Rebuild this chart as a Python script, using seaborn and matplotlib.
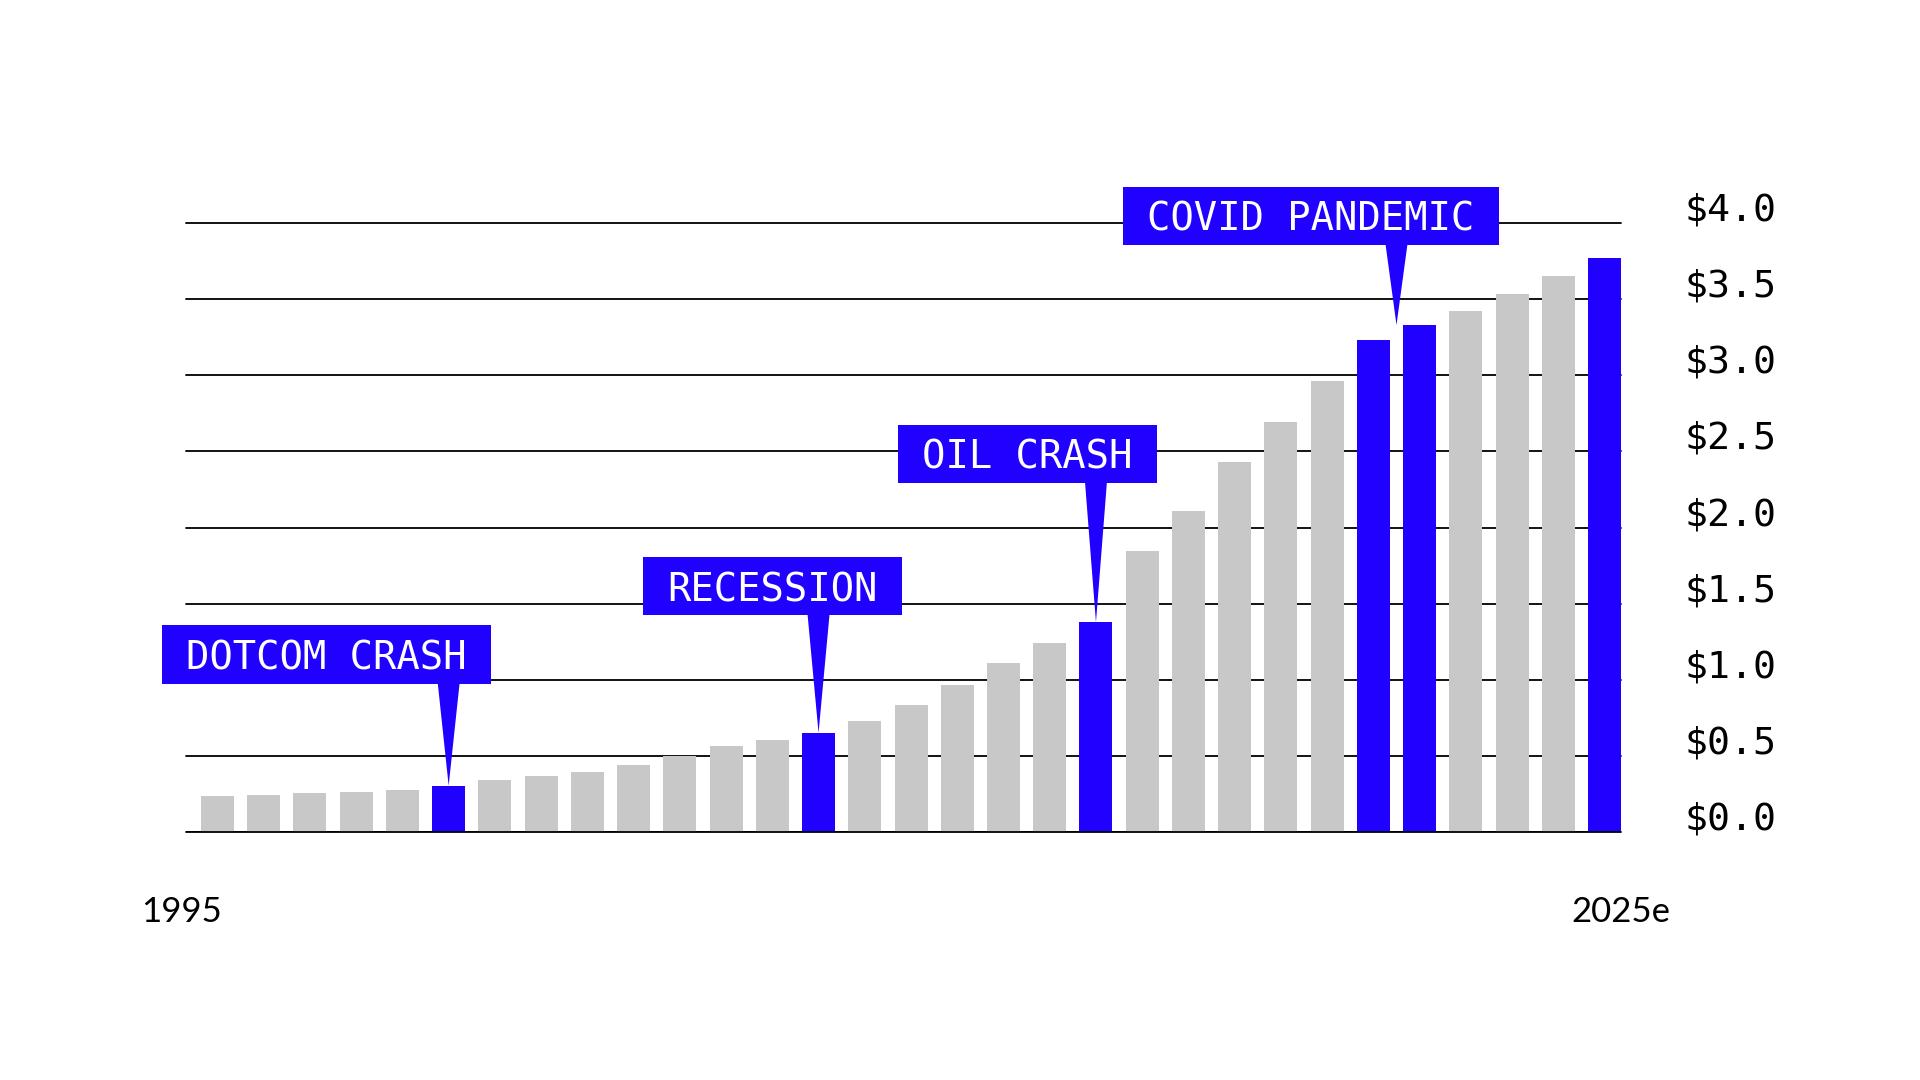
import matplotlib.pyplot as plt
import matplotlib.transforms as mtransforms
from matplotlib.path import Path
import seaborn as sns
import pandas as pd

# data
years = list(range(1995, 2026))
values = [0.238, 0.244, 0.258, 0.264, 0.278, 0.304, 0.344, 0.370, 0.396, 0.443,
          0.498, 0.564, 0.604, 0.651, 0.731, 0.834, 0.965, 1.109, 1.240, 1.378,
          1.849, 2.110, 2.430, 2.690, 2.960, 3.233, 3.330, 3.424, 3.536, 3.655,
          3.767]
highlight_years = [2000, 2008, 2014, 2020, 2021, 2025]
y_ticks = [0.0, 0.5, 1.0, 1.5, 2.0, 2.5, 3.0, 3.5, 4.0]
y_tick_labels = ['$0.0', '$0.5', '$1.0', '$1.5', '$2.0', '$2.5', '$3.0', '$3.5', '$4.0']
event_labels = ['DOTCOM CRASH', 'RECESSION', 'OIL CRASH', 'COVID PANDEMIC']
event_years = [[2000], [2008], [2014], [2020, 2021]]

# callout text centre, offset from the pointer tip (points)
callout_offsets = [(-87.8, 91.7), (-33.1, 102.7), (-49.2, 118.5), (-61.6, 75.7)]

BLUE = '#2000FF'
GREY = '#C8C8C8'


def callout_box(x0, y0, width, height, mutation_size):
    # flat rectangle, wider side padding, a bit more room on top so caps sit centred
    padx = 0.62 * mutation_size
    pad_top = 0.36 * mutation_size
    pad_bot = 0.16 * mutation_size
    l, r = x0 - padx, x0 + width + padx
    b, t = y0 - pad_bot, y0 + height + pad_top
    return Path([(l, b), (r, b), (r, t), (l, t), (l, b)], closed=True)


df = pd.DataFrame({'year': years, 'value': values})
df['kind'] = ['event' if y in highlight_years else 'base' for y in df['year']]

sns.set_theme(style='white')
plt.rcParams['font.family'] = ['DejaVu Sans Mono', 'DejaVu Sans']

fig = plt.figure(figsize=(19.2, 10.8), dpi=100)
ax = fig.add_axes([0.0969, 0.2296, 0.7474, 0.5639])

sns.barplot(data=df, x='year', y='value', hue='kind', dodge=False,
            palette={'base': GREY, 'event': BLUE}, saturation=1,
            width=0.713, errorbar=None, legend=False, linewidth=0, ax=ax)

ax.set_xlim(-0.68, 30.357)
ax.set_ylim(0, 4.0)
ax.set_axisbelow(True)
ax.yaxis.grid(True, color='black', linewidth=1.3)
ax.xaxis.grid(False)
ax.axhline(0, color='black', linewidth=2.0, zorder=3)
sns.despine(ax=ax, left=True, bottom=True, right=True, top=True)

ax.set_xticks([])
ax.set_xlabel('')
ax.set_ylabel('')
ax.yaxis.tick_right()
ax.set_yticks(y_ticks)
ax.set_yticklabels(y_tick_labels)
ax.tick_params(axis='y', length=0, pad=46, labelsize=27.5, labelcolor='black')
nudge = mtransforms.ScaledTranslation(0, 0.025, fig.dpi_scale_trans)
for lbl in ax.get_yticklabels():
    lbl.set_verticalalignment('baseline')
    lbl.set_transform(lbl.get_transform() + nudge)
# the $4.0 line sits on the top edge, keep it full width
for gl in ax.get_ygridlines():
    gl.set_clip_on(False)

# start / end year labels
ax.text(-0.003, -0.148, str(years[0]), transform=ax.transAxes, ha='center',
        va='baseline', fontsize=25, family='Lato', color='black')
ax.text(1, -0.148, f'{years[-1]}e', transform=ax.transAxes, ha='center',
        va='baseline', fontsize=25, family='Lato', color='black')

# callouts
for label, yrs, (dx, dy) in zip(event_labels, event_years, callout_offsets):
    idx = [years.index(y) for y in yrs]
    tip_x = sum(idx) / len(idx)
    tip_y = values[idx[-1]]
    ax.annotate('', xy=(tip_x, tip_y), xytext=(0, dy - 17.5),
                textcoords='offset points',
                arrowprops=dict(arrowstyle='wedge,tail_width=0.79,shrink_factor=0.5',
                                mutation_scale=20, fc=BLUE, ec='none',
                                shrinkA=0, shrinkB=0),
                zorder=4)
    ax.annotate(label, xy=(tip_x, tip_y), xytext=(dx, dy),
                textcoords='offset points', ha='center', va='center',
                color='white', fontsize=28,
                bbox=dict(boxstyle=callout_box, fc=BLUE, ec='none'),
                zorder=5)

fig.savefig('out.png', dpi=100, facecolor='white')
